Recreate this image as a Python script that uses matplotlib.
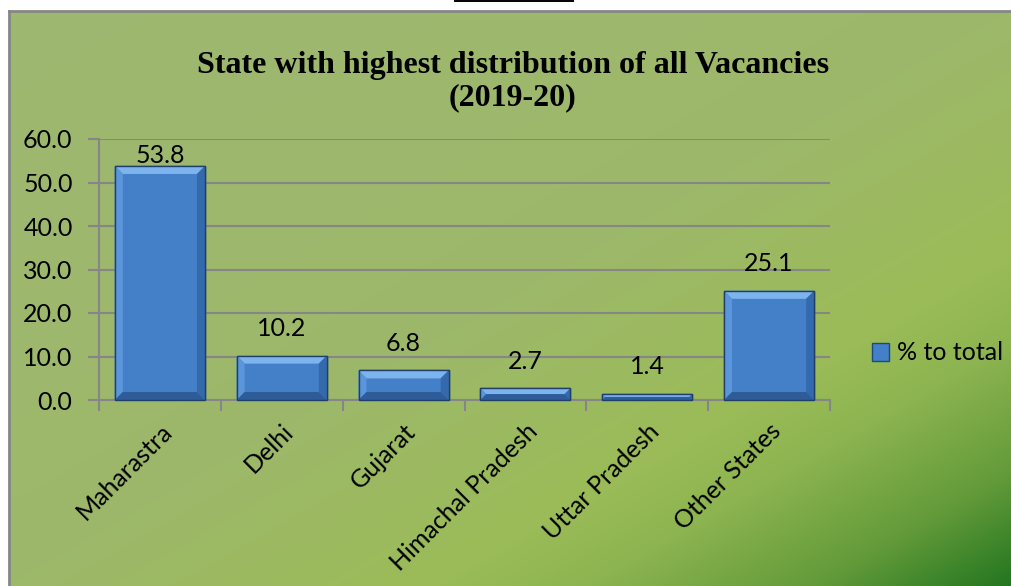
import numpy as np
import matplotlib
matplotlib.use("Agg")
import matplotlib.pyplot as plt
from matplotlib.patches import Polygon, Patch
from matplotlib.lines import Line2D
from matplotlib.transforms import IdentityTransform

categories = ["Maharastra", "Delhi", "Gujarat", "Himachal Pradesh", "Uttar Pradesh", "Other States"]
values = [53.8, 10.2, 6.8, 2.7, 1.4, 25.1]
yticks = [0, 10, 20, 30, 40, 50, 60]
title = "State with highest distribution of all Vacancies\n(2019-20)"
series_name = "% to total"

W, H = 1012, 586
fig = plt.figure(figsize=(W / 100, H / 100), dpi=100)
fig.patch.set_facecolor("white")

# background chart area with diagonal gradient
bx0, by0 = 9, 11  # px offsets (left, top)
bg = fig.add_axes([bx0 / W, 0, 1 - bx0 / W, (H - by0) / H])
bg.set_zorder(-10)
nx, ny = 500, 300
xx = np.linspace(0, 1, nx)[None, :]
yy = np.linspace(0, 1, ny)[:, None]
u = xx + yy
stops = np.array([0.0, 1.0, 1.42, 1.58, 1.8, 2.0])
cols = np.array([[158, 183, 113], [157, 184, 106], [155, 188, 88], [140, 180, 80],
                 [100, 155, 58], [35, 118, 32]]) / 255
img = np.zeros((ny, nx, 3))
for c in range(3):
    img[..., c] = np.interp(u, stops, cols[:, c])
bg.imshow(img, extent=[0, 1, 0, 1], aspect="auto", origin="upper", interpolation="bilinear")
bg.set_xlim(0, 1)
bg.set_ylim(0, 1)
bg.set_xticks([])
bg.set_yticks([])
for s in ["right", "bottom"]:
    bg.spines[s].set_visible(False)
for s in ["left", "top"]:
    bg.spines[s].set_color("#868686")
    bg.spines[s].set_linewidth(2)

# black line at top
fig.add_artist(Line2D([455 / W, 573 / W], [1 - 0.8 / H, 1 - 0.8 / H], color="black", lw=1.4,
                      transform=fig.transFigure))

# main axes
ax_left, ax_right, ax_bottom, ax_top = 99, 830, 400, 139
ax = fig.add_axes([ax_left / W, (H - ax_bottom) / H, (ax_right - ax_left) / W, (ax_bottom - ax_top) / H])
ax.patch.set_alpha(0)
n = len(categories)
x = np.arange(n)
ax.set_xlim(-0.5, n - 0.5)
ax.set_ylim(0, 60)

font = "Lato"
fs = 18
gridc = "#868686"
ax.set_yticks(yticks)
ax.set_yticklabels([f"{t:.1f}" for t in yticks], fontsize=fs, family=font)
ax.yaxis.grid(True, color=gridc, lw=1.5)
ax.set_axisbelow(True)
for s in ["top", "right"]:
    ax.spines[s].set_visible(False)
for s in ["left", "bottom"]:
    ax.spines[s].set_color(gridc)
    ax.spines[s].set_linewidth(1.5)
ax.tick_params(axis="y", length=8, width=1.5, color=gridc, pad=11)
ax.set_xticks(np.arange(n + 1) - 0.5, minor=True)
ax.set_xticks(x)
ax.tick_params(axis="x", which="major", length=0, pad=14)
ax.tick_params(axis="x", which="minor", length=8, width=1.5, color=gridc)
ax.set_xticklabels(categories, rotation=45, ha="right", va="top", rotation_mode="anchor",
                   fontsize=fs, family=font)

bars = ax.bar(x, values, width=0.74, color="#4380C8", edgecolor="#1F497D", lw=1.0, zorder=3)

fig.canvas.draw()
trans = ax.transData
ax_top_px = trans.transform((0, 60))[1]
for b, v in zip(bars, values):
    (x0, y0), (x1, y1) = trans.transform([(b.get_x(), 0), (b.get_x() + b.get_width(), v)])
    bv = min(8, (y1 - y0) / 2)
    top = Polygon([(x0, y1), (x1, y1), (x1 - bv, y1 - bv), (x0 + bv, y1 - bv)], closed=True,
                  facecolor="#7DB4EE", edgecolor="none", transform=IdentityTransform(), zorder=4)
    left = Polygon([(x0, y1), (x0 + bv, y1 - bv), (x0 + bv, y0 + bv), (x0, y0)], closed=True,
                   facecolor="#5B95DA", edgecolor="none", transform=IdentityTransform(), zorder=4)
    right = Polygon([(x1, y1), (x1 - bv, y1 - bv), (x1 - bv, y0 + bv), (x1, y0)], closed=True,
                    facecolor="#346AAC", edgecolor="none", transform=IdentityTransform(), zorder=4)
    bot = Polygon([(x0, y0), (x1, y0), (x1 - bv, y0 + bv), (x0 + bv, y0 + bv)], closed=True,
                  facecolor="#2D5C98", edgecolor="none", transform=IdentityTransform(), zorder=4)
    for p in (top, left, right, bot):
        fig.add_artist(p)
    fig.add_artist(Polygon([(x0, y0), (x0, y1), (x1, y1), (x1, y0)], closed=True, fill=False,
                           edgecolor="#1F3F6A", lw=1.0, transform=IdentityTransform(), zorder=5))
    ly = min(y1 + 27, ax_top_px - 16)
    fig.text(((x0 + x1) / 2) / W, ly / H, f"{v:.1f}", ha="center", va="center",
             fontsize=fs, family=font, color="black")

fig.text(513 / W, 1 - 82 / H, title, ha="center", va="center", fontsize=23, fontweight="bold",
         family="Liberation Serif", linespacing=1.15)

leg = fig.legend(handles=[Patch(facecolor="#4380C8", edgecolor="#1F497D")], labels=[series_name],
                 loc="center left", bbox_to_anchor=(872 / W, 1 - 353 / H), frameon=False,
                 borderaxespad=0, borderpad=0,
                 handlelength=0.7, handleheight=0.7, handletextpad=0.3,
                 prop={"family": font, "size": fs})

fig.savefig("out.png", dpi=100, facecolor="white")
